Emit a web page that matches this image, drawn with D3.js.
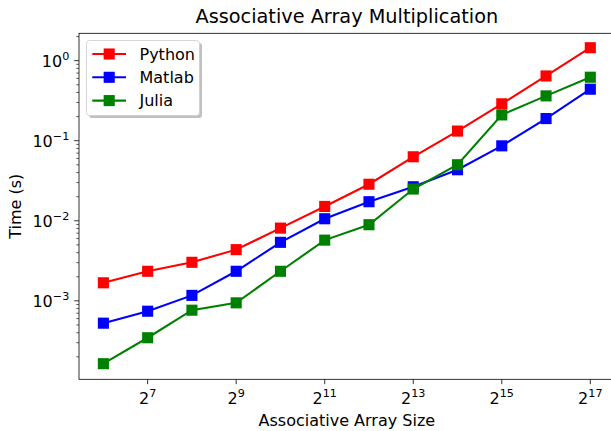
<!DOCTYPE html>
<html>
<head>
<meta charset="utf-8">
<script src="https://cdn.jsdelivr.net/npm/d3@7"></script>
<style>
  html, body { margin: 0; padding: 0; background: #fff; }
  svg { display: block; font-family: "DejaVu Sans", sans-serif; }
</style>
</head>
<body>
<div id="chart"></div>
<script>
// ── Data ────────────────────────────────────────────────────────────────────
const exponents = [6, 7, 8, 9, 10, 11, 12, 13, 14, 15, 16, 17];   // size = 2^n
const python = [1.68e-3, 2.34e-3, 3.03e-3, 4.36e-3, 8.1e-3, 1.51e-2, 2.86e-2, 6.3e-2, 0.132, 0.289, 0.644, 1.45];
const matlab = [5.26e-4, 7.42e-4, 1.17e-3, 2.34e-3, 5.38e-3, 1.06e-2, 1.73e-2, 2.66e-2, 4.34e-2, 8.63e-2, 0.189, 0.44];
const julia  = [1.64e-4, 3.46e-4, 7.64e-4, 9.44e-4, 2.34e-3, 5.73e-3, 8.93e-3, 2.49e-2, 5.01e-2, 0.21, 0.363, 0.621];
const seriesNames  = ["Python", "Matlab", "Julia"];
const seriesColors = ["#ff0000", "#0000ff", "#008000"];
const xTickExps = [7, 9, 11, 13, 15, 17];
const yTickExps = [-3, -2, -1, 0];

const W = 611, H = 431;
const m = { left: 79, top: 33.3, right: 614.7, bottom: 379.3 };
const FS = 16, FS_SUP = 11.2, FS_TITLE = 19.3;

const svg = d3.select("#chart").append("svg")
  .attr("width", W).attr("height", H).attr("viewBox", `0 0 ${W} ${H}`);

// ── Scales ──────────────────────────────────────────────────────────────────
const x = d3.scaleLog().base(2)
  .domain([Math.pow(2, 5.449), Math.pow(2, 17.551)])
  .range([m.left, m.right]);
const y = d3.scaleLog()
  .domain([Math.pow(10, -3.98), Math.pow(10, 0.3416)])
  .range([m.bottom, m.top]);

// ── Axes ────────────────────────────────────────────────────────────────────
const tickLen = 4.86, minorLen = 2.78, tickPad = 4.86;
const axisG = svg.append("g").attr("stroke", "#000").attr("stroke-width", 0.8);

// y minor ticks
const yMinor = [];
for (let e = -4; e <= 0; e++) for (let s = 2; s <= 9; s++) {
  const v = s * Math.pow(10, e);
  if (v >= y.domain()[0] && v <= y.domain()[1]) yMinor.push(v);
}
axisG.selectAll(".ymin").data(yMinor).join("line")
  .attr("x1", m.left - minorLen).attr("x2", m.left)
  .attr("y1", (d) => y(d)).attr("y2", (d) => y(d))
  .attr("stroke-width", 0.6);
axisG.selectAll(".ymaj").data(yTickExps).join("line")
  .attr("x1", m.left - tickLen).attr("x2", m.left)
  .attr("y1", (d) => y(Math.pow(10, d))).attr("y2", (d) => y(Math.pow(10, d)));
axisG.selectAll(".xmaj").data(xTickExps).join("line")
  .attr("x1", (d) => x(Math.pow(2, d))).attr("x2", (d) => x(Math.pow(2, d)))
  .attr("y1", m.bottom).attr("y2", m.bottom + tickLen);

// tick labels
const yLab = svg.append("g").attr("font-size", FS + "px").attr("fill", "#000");
yTickExps.forEach((e) => {
  const t = yLab.append("text")
    .attr("x", m.left - tickLen - tickPad).attr("y", y(Math.pow(10, e)) + 6)
    .attr("text-anchor", "end");
  t.append("tspan").text("10");
  t.append("tspan").attr("dy", -7).attr("font-size", FS_SUP + "px")
    .text(e < 0 ? "\u2212" + Math.abs(e) : String(e));
});
const xLab = svg.append("g").attr("font-size", FS + "px").attr("fill", "#000");
xTickExps.forEach((e) => {
  const t = xLab.append("text")
    .attr("x", x(Math.pow(2, e))).attr("y", 403.5)
    .attr("text-anchor", "middle");
  t.append("tspan").text("2");
  t.append("tspan").attr("dy", -7).attr("font-size", FS_SUP + "px").text(String(e));
});

// ── Lines + markers ─────────────────────────────────────────────────────────
const line = d3.line().x((d) => x(Math.pow(2, d[0]))).y((d) => y(d[1]));
[python, matlab, julia].forEach((vals, i) => {
  const pts = exponents.map((e, j) => [e, vals[j]]);
  const g = svg.append("g");
  g.append("path").datum(pts).attr("d", line)
    .attr("fill", "none").attr("stroke", seriesColors[i]).attr("stroke-width", 2.08);
  g.selectAll("rect").data(pts).join("rect")
    .attr("x", (d) => x(Math.pow(2, d[0])) - 5.55)
    .attr("y", (d) => y(d[1]) - 5.55)
    .attr("width", 11.1).attr("height", 11.1)
    .attr("fill", seriesColors[i]);
});

// spines
svg.append("rect")
  .attr("x", m.left).attr("y", m.top)
  .attr("width", m.right - m.left).attr("height", m.bottom - m.top)
  .attr("fill", "none").attr("stroke", "#000").attr("stroke-width", 0.8);

// ── Legend ──────────────────────────────────────────────────────────────────
const lg = svg.append("g");
lg.append("rect").attr("x", 89).attr("y", 43).attr("width", 113).attr("height", 75)
  .attr("rx", 3).attr("fill", "#b0b0b0").attr("opacity", 0.8);
lg.append("rect").attr("x", 86.5).attr("y", 40.5).attr("width", 113).attr("height", 75)
  .attr("rx", 3).attr("fill", "#fff").attr("stroke", "#cccccc").attr("stroke-width", 0.8);
seriesNames.forEach((name, i) => {
  const cy = 54 + i * 23.3;
  lg.append("line").attr("x1", 92.3).attr("x2", 126).attr("y1", cy).attr("y2", cy)
    .attr("stroke", seriesColors[i]).attr("stroke-width", 2.08);
  lg.append("rect").attr("x", 109.2 - 5.55).attr("y", cy - 5.55)
    .attr("width", 11.1).attr("height", 11.1).attr("fill", seriesColors[i]);
  lg.append("text").attr("x", 139.5).attr("y", cy + 5.5).attr("font-size", FS + "px")
    .text(name);
});

// ── Titles ──────────────────────────────────────────────────────────────────
svg.append("text").attr("x", (m.left + m.right) / 2).attr("y", 23)
  .attr("text-anchor", "middle").attr("font-size", FS_TITLE + "px")
  .text("Associative Array Multiplication");
svg.append("text").attr("x", (m.left + m.right) / 2).attr("y", 426)
  .attr("text-anchor", "middle").attr("font-size", FS + "px")
  .text("Associative Array Size");
svg.append("text")
  .attr("transform", `translate(20.5,${(m.top + m.bottom) / 2}) rotate(-90)`)
  .attr("text-anchor", "middle").attr("font-size", FS + "px")
  .text("Time (s)");
</script>
</body>
</html>
